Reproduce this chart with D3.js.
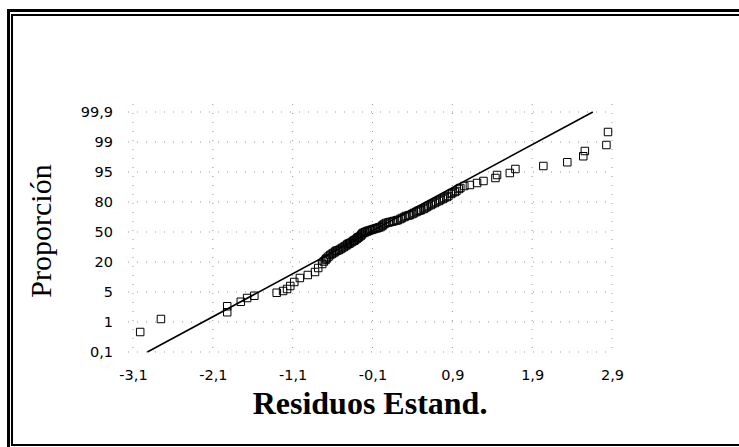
<!DOCTYPE html>
<html>
<head>
<meta charset="utf-8">
<script src="https://cdn.jsdelivr.net/npm/d3@7"></script>
<style>
    body { margin: 0; background: #fff; }
    svg { display: block; }
</style>
</head>
<body>
<svg id="draw-area" width="739" height="447"></svg>
<script>
// tick values of the two axes
const xTicks = [-3.1, -2.1, -1.1, -0.1, 0.9, 1.9, 2.9];
const yTicks = [0.1, 1, 5, 20, 50, 80, 95, 99, 99.9];

// standardized residuals (sorted) and their cumulative proportion (%)
const residuals = [
    -3.01, -2.75, -1.92, -1.92, -1.75, -1.67, -1.58, -1.30, -1.22, -1.17,
    -1.13, -1.08, -1.01, -0.91, -0.82, -0.78,
    -0.73, -0.71, -0.69, -0.68, -0.67, -0.65, -0.63, -0.61, -0.59, -0.57,
    -0.56, -0.54, -0.52, -0.50, -0.48, -0.46, -0.44, -0.42, -0.41, -0.39,
    -0.38, -0.36, -0.34, -0.33, -0.32, -0.30, -0.29, -0.28, -0.27, -0.25,
    -0.24, -0.23, -0.22, -0.20, -0.19, -0.17, -0.16, -0.14, -0.12, -0.10,
    -0.08, -0.06, -0.04, -0.02, 0.00, 0.02, 0.03, 0.05, 0.07, 0.10,
    0.12, 0.15, 0.17, 0.20, 0.22, 0.25, 0.27, 0.30, 0.32, 0.35,
    0.37, 0.40, 0.42, 0.45, 0.47, 0.49, 0.51, 0.54, 0.56, 0.58,
    0.60, 0.63, 0.65, 0.68, 0.70, 0.73, 0.75, 0.78, 0.80, 0.83,
    0.85, 0.88, 0.90, 0.93, 0.95, 0.98, 1.00,
    1.05, 1.12, 1.21, 1.29, 1.44, 1.46, 1.62, 1.69, 2.04, 2.34,
    2.54, 2.56, 2.83, 2.85
];
const proportions = [
    0.7, 1.4, 2.3, 3.1, 3.7, 4.2, 4.5, 4.9, 5.5, 6.5,
    8, 10, 12, 13.5, 15, 17,
    19, 20.5, 22, 23, 24, 25.5, 27, 28, 29, 30,
    31, 31.5, 32, 33, 34, 35, 36, 37, 38, 38.5,
    39, 40, 41, 41.5, 42, 43, 44, 44.5, 45, 46,
    47, 48, 49, 49.5, 50, 50.5, 51, 51.5, 52, 52.5,
    53, 53.5, 54, 54.5, 55, 56, 57, 58, 59, 59.5,
    60, 60.5, 61, 61.5, 62, 63, 64, 65, 66, 66.5,
    67, 68, 69, 70, 71, 71.5, 72, 73, 74, 75,
    76, 77, 78, 79, 80, 80.5, 81, 81.5, 82, 82.5,
    83, 84, 84.5, 85, 85.5, 86.5, 87,
    88, 88.5, 89.5, 90.5, 92, 93.5, 94.5, 95.4, 95.8, 96.3,
    97.1, 97.8, 98.6, 99.3
];

// fitted reference line (two end points)
const fitX = [-2.92, 2.66];
const fitY = [0.1, 99.9];

const svg = d3.select("svg#draw-area");

// plot area
const plotLeft = 133, plotRight = 612;
const plotTop = 112, plotBottom = 352;
const step = (plotBottom - plotTop) / (yTicks.length - 1);

const x = d3.scaleLinear()
    .domain([xTicks[0], xTicks[xTicks.length - 1]])
    .range([plotLeft, plotRight]);

// probability axis: labels evenly spaced, piecewise linear in between
const y = d3.scaleLinear()
    .domain(yTicks)
    .range(yTicks.map((d, i) => plotBottom - i * step));

const comma = d => String(d).replace(".", ",");

// double frame round the figure
svg.append("rect")
    .attr("x", 8.5).attr("y", 10.5)
    .attr("width", 760).attr("height", 460)
    .attr("fill", "none").attr("stroke", "#000").attr("stroke-width", 3);
svg.append("rect")
    .attr("x", 12).attr("y", 15)
    .attr("width", 750).attr("height", 430)
    .attr("fill", "none").attr("stroke", "#000").attr("stroke-width", 2);

// dotted grid
const grid = svg.append("g")
    .attr("stroke", "#999")
    .attr("stroke-width", 1)
    .attr("stroke-dasharray", "1,8");

grid.selectAll("line.v")
    .data(xTicks)
    .join("line")
    .attr("class", "v")
    .attr("x1", d => x(d)).attr("x2", d => x(d))
    .attr("y1", plotTop - 8).attr("y2", plotBottom + 4);

grid.selectAll("line.h")
    .data(yTicks)
    .join("line")
    .attr("class", "h")
    .attr("x1", plotLeft - 5).attr("x2", plotRight + 2)
    .attr("y1", d => y(d)).attr("y2", d => y(d));

// axes, labels only
const xAxis = svg.append("g")
    .attr("transform", "translate(0," + 370 + ")")
    .call(d3.axisBottom(x).tickValues(xTicks).tickFormat(comma).tickSize(0).tickPadding(0));

const yAxis = svg.append("g")
    .attr("transform", "translate(" + 113 + ",0)")
    .call(d3.axisLeft(y).tickValues(yTicks).tickFormat(comma).tickSize(0).tickPadding(0));

[xAxis, yAxis].forEach(a => {
    a.select(".domain").remove();
    a.selectAll("text")
        .attr("fill", "#000")
        .style("font-family", "'DejaVu Sans', Verdana, sans-serif")
        .style("font-size", "14.5px");
});

// fitted line
svg.append("path")
    .datum(fitX.map((d, i) => [d, fitY[i]]))
    .attr("d", d3.line().x(d => x(d[0])).y(d => y(d[1])))
    .attr("fill", "none")
    .attr("stroke", "#000")
    .attr("stroke-width", 1.6);

// open squares for the residuals
const points = residuals.map((d, i) => ({ r: d, p: proportions[i] }));

svg.append("g")
    .selectAll("path")
    .data(points)
    .join("path")
    .attr("transform", d => "translate(" + x(d.r) + "," + y(d.p) + ")")
    .attr("d", d3.symbol(d3.symbolSquare, 56))
    .attr("fill", "none")
    .attr("stroke", "#000")
    .attr("stroke-width", 1);

// axis titles
svg.append("text")
    .attr("x", 370)
    .attr("y", 414)
    .attr("text-anchor", "middle")
    .style("font-family", "'Liberation Serif', 'Times New Roman', serif")
    .style("font-weight", "bold")
    .style("font-size", "32px")
    .text("Residuos Estand.");

svg.append("text")
    .attr("transform", "translate(51," + 231 + ") rotate(-90)")
    .attr("text-anchor", "middle")
    .style("font-family", "'Liberation Serif', 'Times New Roman', serif")
    .style("font-size", "30px")
    .text("Proporción");
</script>
</body>
</html>
